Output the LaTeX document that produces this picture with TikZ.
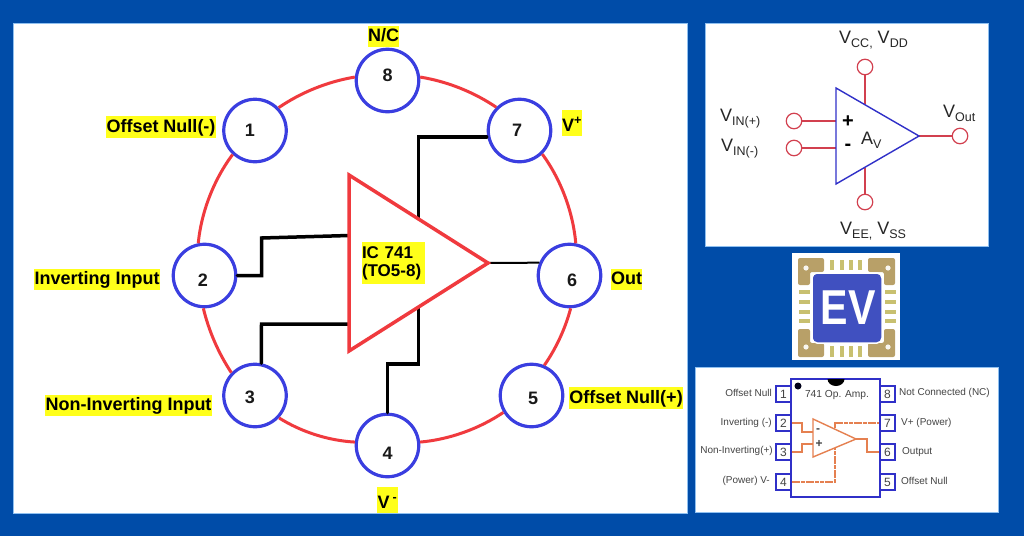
\documentclass[tikz,border=0pt]{standalone}
\usepackage{fontspec}
\setmainfont{Liberation Sans}
\definecolor{bgblue}{HTML}{004CA8}
\definecolor{edgeblue}{HTML}{8FC0F0}
\definecolor{ringblue}{HTML}{3A3EE0}
\definecolor{ringred}{HTML}{F03A3E}
\definecolor{hl}{HTML}{FFFF1A}
\definecolor{termred}{HTML}{D2404F}
\definecolor{triblue}{HTML}{3030C8}
\definecolor{orangew}{HTML}{E58050}
\definecolor{greytext}{HTML}{444444}
\definecolor{gold}{HTML}{B8A068}
\definecolor{pinc}{HTML}{C8C070}
\definecolor{evblue}{HTML}{4050C0}
\newcommand{\fs}[1]{\fontsize{#1}{#1}\selectfont}
\newcommand{\sbs}[1]{\raisebox{-4.5pt}{\fs{12.5}#1}}
\tikzset{
 panel/.style={fill=white,draw=edgeblue,line width=0.7pt},
 pinc/.style={circle,draw=ringblue,line width=3.2pt,fill=white,minimum size=62.5pt,inner sep=0pt},
 pinnum/.style={font=\fs{18}\bfseries,inner sep=0pt,text=black!90},
 ring/.style={draw=ringred,line width=3pt,looseness=0.85},
 wire/.style={draw=black,line width=3.5pt,line cap=round,line join=miter},
 tag/.style={fill=hl,font=\fs{18}\bfseries,inner sep=0pt,text=black,text height=13pt,text depth=3pt,anchor=center,minimum height=21.5pt},
 term/.style={circle,draw=termred,line width=1.2pt,minimum size=15.5pt,inner sep=0pt},
 termw/.style={draw=termred,line width=1.2pt},
 vtxt/.style={font=\fs{18},inner sep=0pt,text=black!85},
 icpin/.style={draw=triblue,line width=1.2pt,fill=white,minimum width=15pt,minimum height=16pt,inner sep=0pt,font=\fs{12},text=greytext},
 iclab/.style={font=\fs{10},inner sep=0pt,text=greytext},
 orw/.style={draw=orangew,line width=1.3pt},
 ord/.style={draw=orangew,line width=1.3pt,dash pattern=on 4pt off 0.7pt},
 padl/.style={fill=gold,rounded corners=2pt},
 pinbar/.style={fill=pinc}
}
\begin{document}
\begin{tikzpicture}[x=1pt,y=-1pt]
\useasboundingbox (0,0) rectangle (1024,536);
\fill[bgblue] (0,0) rectangle (1024,536);
\path[panel] (13.5,23) rectangle (687,513);
\path[panel] (705,23) rectangle (988,246);
\path[panel] (695,367) rectangle (998,512);
\fill[white] (792,253) rectangle (900,360);

% main ring
\node[pinc] (p1) at (255,130.5) {};
\node[pinc] (p2) at (204.5,275.5) {};
\node[pinc] (p3) at (255,395.5) {};
\node[pinc] (p4) at (387.5,445.5) {};
\node[pinc] (p5) at (531.5,395.5) {};
\node[pinc] (p6) at (569.5,275.5) {};
\node[pinc] (p7) at (519.5,130.5) {};
\node[pinc] (p8) at (387.5,80.5) {};
\draw[ring] (p8.6) to[bend left=12.5] (p7.135);
\draw[ring] (p7.-46) to[bend left=15.5] (p6.79);
\draw[ring] (p6.-88) to[bend left=10] (p5.67);
\draw[ring] (p5.-149) to[bend left=14.5] (p4.6);
\draw[ring] (p4.174) to[bend left=14.5] (p3.-43);
\draw[ring] (p3.136) to[bend left=10] (p2.-92);
\draw[ring] (p2.101) to[bend left=15.5] (p1.-133);
\draw[ring] (p1.44) to[bend left=12.5] (p8.174);
\node[pinnum] (n1) at (250,130) {1};
\node[pinnum] (n2) at (203,280) {2};
\node[pinnum] (n3) at (250,397) {3};
\node[pinnum] (n4) at (387.5,453) {4};
\node[pinnum] (n5) at (533,398) {5};
\node[pinnum] (n6) at (572,280) {6};
\node[pinnum] (n7) at (517,130) {7};
\node[pinnum] (n8) at (387.5,75) {8};

% internal wires
\coordinate (t7) at (418.5,218);
\coordinate (t4) at (418.5,307);
\coordinate (t2) at (349,235.5);
\coordinate (t3) at (349,324);
\coordinate (apex) at (488,263);
\coordinate (k2a) at (261.5,275.5);
\coordinate (k2b) at (261.5,238);
\coordinate (k3) at (261.5,324);
\coordinate (k4a) at (387.5,364);
\coordinate (k4b) at (418.5,364);
\coordinate (k7) at (418.5,137);
\draw[wire] (p7.west |- k7) -- (k7) -- (t7);
\draw[wire] (p2.east) -- (k2a) -- (k2b) -- (t2);
\draw[wire] (p3.79) -- (k3) -- (t3);
\draw[wire] (p4.north) -- (k4a) -- (k4b) -- (t4);
\draw[draw=black,line width=2pt] (apex) -- (p6.157);
\draw[draw=ringred,line width=3.5pt,line join=miter] (349,175) -- (apex) -- (349,351) -- cycle;
\node[fill=hl,font=\fs{17}\bfseries,inner sep=0pt,align=left,text width=63pt,minimum height=42pt,text=black] (ic) at (393.5,263) {IC 741\\[1pt](TO5-8)};

% tags
\node[tag,minimum width=110pt] (l1) at (161,127) {Offset Null(-)};
\node[tag,minimum width=31pt] (l8) at (383.5,36.5) {N/C};
\node[tag,minimum width=20pt,minimum height=26pt,text height=17pt,text depth=1pt] (l7) at (572,123) {V\textsuperscript{+}};
\node[tag,minimum width=126pt] (l2) at (97,279.5) {Inverting Input};
\node[tag,minimum width=167pt] (l3) at (128.5,405.5) {Non-Inverting Input};
\node[tag,minimum width=31pt] (l6) at (626.5,279.5) {Out};
\node[tag,minimum width=114pt] (l5) at (626,398) {Offset Null(+)};
\node[tag,minimum width=21pt,minimum height=26pt,text height=16pt,text depth=0pt] (l4) at (387.5,500) {V\,\textsuperscript{-}};

% op-amp symbol
\node[term] (tcc) at (865,67) {};
\node[term] (tee) at (865,202) {};
\node[term] (tip) at (794,121) {};
\node[term] (tin) at (794,148) {};
\node[term] (tou) at (960,136) {};
\coordinate (aapex) at (919,136);
\coordinate (atop) at (865,104);
\coordinate (abot) at (865,168);
\coordinate (ainp) at (836,121);
\coordinate (ainn) at (836,148);
\draw[termw] (tcc) -- (atop);
\draw[termw] (tee) -- (abot);
\draw[termw] (tip) -- (ainp);
\draw[termw] (tin) -- (ainn);
\draw[termw] (tou) -- (aapex);
\draw[draw=triblue,line width=1.4pt,line join=miter] (836,88) -- (aapex) -- (836,184) -- cycle;
\node[vtxt,anchor=base west] (vcc) at (839,43) {V\sbs{CC,} V\sbs{DD}};
\node[vtxt,anchor=base west] (vee) at (840,234) {V\sbs{EE,} V\sbs{SS}};
\node[vtxt,anchor=base west] (vip) at (720,121) {V\sbs{IN(+)}};
\node[vtxt,anchor=base west] (vin) at (721,151) {V\sbs{IN(-)}};
\node[vtxt,anchor=base west] (vou) at (943,117) {V\sbs{Out}};
\node[vtxt,anchor=base west] (av) at (861,144) {A\sbs{V}};
\node[font=\fs{20}\bfseries,inner sep=0pt] (aplus) at (848,122) {+};
\node[font=\fs{20}\bfseries,inner sep=0pt] (aminus) at (848,147) {-};

% logo
\foreach \x in {832,842,851,860}{
 \fill[pinbar] (\x-1.8,260) rectangle (\x+1.8,270);
 \fill[pinbar] (\x-1.8,346) rectangle (\x+1.8,357);}
\foreach \y in {292,302,312,321}{
 \fill[pinbar] (799,\y-1.8) rectangle (810,\y+1.8);
 \fill[pinbar] (885,\y-1.8) rectangle (896,\y+1.8);}
\fill[padl] (798,258) -- (824,258) -- (824,272) -- (810,272) -- (810,285) -- (798,285) -- cycle;
\fill[padl] (895,258) -- (868,258) -- (868,272) -- (884,272) -- (884,285) -- (895,285) -- cycle;
\fill[padl] (798,357) -- (824,357) -- (824,343) -- (810,343) -- (810,329) -- (798,329) -- cycle;
\fill[padl] (895,357) -- (868,357) -- (868,343) -- (884,343) -- (884,329) -- (895,329) -- cycle;
\foreach \x/\y in {806/268,888/268,806/347,888/347}{\fill[white!90!gold] (\x,\y) circle (2.6);}
\fill[evblue,draw=white,line width=1.5pt,rounded corners=5pt] (812,273) rectangle (882,343);
\node[font=\fs{49}\bfseries,text=white,inner sep=0pt] (ev) at (848,308) {\scalebox{0.84}[1]{EV}};

% IC pinout
\node[icpin] (b1) at (783.5,394) {1};
\node[icpin] (b2) at (783.5,423) {2};
\node[icpin] (b3) at (783.5,452) {3};
\node[icpin] (b4) at (783.5,482) {4};
\node[icpin] (b8) at (887.5,394) {8};
\node[icpin] (b7) at (887.5,423) {7};
\node[icpin] (b6) at (887.5,452) {6};
\node[icpin] (b5) at (887.5,482) {5};
\node[draw=triblue,line width=1.2pt,fill=white,minimum width=89pt,minimum height=118pt,inner sep=0pt] (chip) at (835.5,438) {};
\fill[black] (827.5,379) arc[start angle=180,end angle=360,x radius=8.5,y radius=-7] -- cycle;
\fill[black!90!blue] (798,386) circle (3.5);
\node[font=\fs{10.2},inner sep=0pt,text=greytext] (cname) at (837,395) {741 Op. Amp.};
\node[iclab,anchor=east] (a1) at (772,393) {Offset Null};
\node[iclab,anchor=east] (a2) at (772,423) {Inverting (-)};
\node[iclab,anchor=east] (a3) at (773,451) {Non-Inverting(+)};
\node[iclab,anchor=east] (a4) at (770,481) {(Power) V-};
\node[iclab,anchor=west] (a8) at (899,393) {Not Connected (NC)};
\node[iclab,anchor=west] (a7) at (901,423) {V+ (Power)};
\node[iclab,anchor=west] (a6) at (902,452) {Output};
\node[iclab,anchor=west] (a5) at (901,481) {Offset Null};
\coordinate (oa) at (856,439);
\coordinate (i2) at (813,432);
\coordinate (i3) at (813,444);
\coordinate (u7) at (835,428);
\coordinate (u4) at (835,448);
\draw[orw] (b2.east) -- (802,423) -- (802,432) -- (i2);
\draw[orw] (b3.east) -- (802,452) -- (802,444) -- (i3);
\draw[orw] (oa) -- (867,439) -- (867,452) -- (b6.west);
\draw[ord] (u7) -- (835,423) -- (b7.west);
\draw[ord] (b4.east) -- (835,482) -- (u4);
\draw[draw=orangew,line width=1.4pt,line join=miter] (813,419) -- (oa) -- (813,457) -- cycle;
\node[font=\fs{12}\bfseries,inner sep=0pt,text=greytext] (oplus) at (819,443.5) {+};
\node[font=\fs{12}\bfseries,inner sep=0pt,text=greytext] (ominus) at (818,431) {-};
\end{tikzpicture}
\end{document}
